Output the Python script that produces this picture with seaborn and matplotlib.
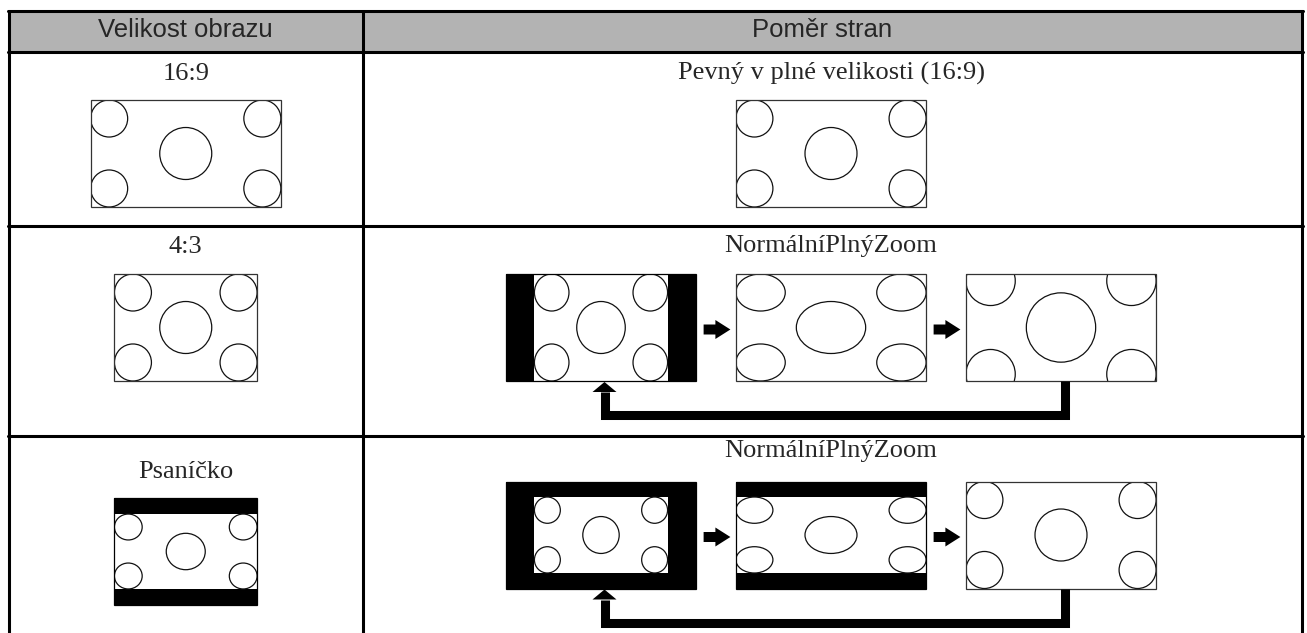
import matplotlib
matplotlib.use("Agg")
import matplotlib.pyplot as plt
import seaborn as sns
from matplotlib.patches import Rectangle, Ellipse, Polygon

# table texts
HEADERS = ["Velikost obrazu", "Poměr stran"]
SOURCE_LABELS = ["16:9", "4:3", "Psaníčko"]
SOURCE_SCREENS = ["wide", "normal", "letterbox"]
MODE_TITLES = ["Pevný v plné velikosti (16:9)", "NormálníPlnýZoom", "NormálníPlnýZoom"]
MODE_SCREENS = [["wide"], ["pillar", "stretch", "zoom"], ["window", "stretch_lb", "zoom_lb"]]

# screen kinds: frame aspect, picture aspect, picture size inside the frame
SCREEN_KINDS = ["wide", "normal", "letterbox", "pillar", "stretch", "zoom", "window", "stretch_lb", "zoom_lb"]
FRAME_ASPECT = [16 / 9, 4 / 3, 4 / 3, 16 / 9, 16 / 9, 16 / 9, 16 / 9, 16 / 9, 16 / 9]
SCENE_ASPECT = [16 / 9, 4 / 3, 16 / 9, 4 / 3, 4 / 3, 4 / 3, 16 / 9, 16 / 9, 16 / 9]
CONTENT_W = [1.0, 1.0, 1.0, 0.70, 1.0, 1.0, 0.70, 1.0, 1.0]
CONTENT_H = [1.0, 1.0, 0.70, 1.0, 1.0, 4 / 3, 0.71, 0.71, 1.0]

W, H = 1307, 633
SERIF = ["Liberation Serif", "DejaVu Serif"]
SANS = ["Liberation Sans", "DejaVu Sans"]

sns.set_theme(style="white")
plt.rcParams["font.family"] = SANS

fig = plt.figure(figsize=(W / 100, H / 100), dpi=100)
ax = fig.add_axes([0, 0, 1, 1])
ax.set_xlim(0, W)
ax.set_ylim(H, 0)
ax.axis("off")

# layout (pixels)
x_left, x_mid, x_right = 8.5, 363, 1302
row_y = [10.5, 52, 226, 436, H]
pic_h = 107
left_cx = (x_left + x_mid) / 2
right_cx = 831
step = 230
header_x = [left_cx, 822]
src_pic_cy = [153.5, 327.5, 551.5]
mode_pic_cy = [153.5, 327.5, 535]
src_base = [80, 253, 478]
mode_base = [80, 252, 457]
lw_table = 2.2


def draw_screen(ax, cx, cy, kind, h=pic_h):
    i = SCREEN_KINDS.index(kind)
    fw = FRAME_ASPECT[i] * h
    x0, y0 = cx - fw / 2, cy - h / 2
    covered = CONTENT_W[i] >= 1 and CONTENT_H[i] >= 1
    frame = Rectangle((x0, y0), fw, h, facecolor="white" if covered else "black",
                      edgecolor="none", zorder=2)
    ax.add_patch(frame)
    cw, ch = CONTENT_W[i] * fw, CONTENT_H[i] * h
    cx0, cy0 = cx - cw / 2, cy - ch / 2
    content = Rectangle((cx0, cy0), cw, ch, facecolor="white", edgecolor="none", zorder=3)
    ax.add_patch(content)
    content.set_clip_path(frame)
    a = SCENE_ASPECT[i]
    sx, sy = cw / a, ch
    rc, rm = 0.173, 0.243
    spots = [(rc, rc, rc), (a - rc, rc, rc), (rc, 1 - rc, rc), (a - rc, 1 - rc, rc), (a / 2, 0.5, rm)]
    for u, v, r in spots:
        e = Ellipse((cx0 + u * sx, cy0 + v * sy), 2 * r * sx, 2 * r * sy, fill=False,
                    edgecolor="#111111", linewidth=0.9, zorder=4)
        ax.add_patch(e)
        e.set_clip_path(frame)
    outline = Rectangle((x0, y0), fw, h, fill=False,
                        edgecolor="#333333" if covered else "black", linewidth=0.9, zorder=5)
    ax.add_patch(outline)
    return x0, x0 + fw


def right_arrow(ax, xa, xb, y):
    head = 15
    pts = [(xa, y - 5), (xb - head, y - 5), (xb - head, y - 9.5), (xb, y),
           (xb - head, y + 9.5), (xb - head, y + 5), (xa, y + 5)]
    ax.add_patch(Polygon(pts, closed=True, facecolor="black", edgecolor="none", zorder=6))


def loop_back(ax, x_from, x_to, y_bottom):
    y_line = y_bottom + 34
    ax.plot([x_from, x_from, x_to, x_to], [y_bottom, y_line, y_line, y_bottom + 11],
            color="black", linewidth=6.5, solid_joinstyle="miter", solid_capstyle="butt", zorder=6)
    ax.add_patch(Polygon([(x_to - 12, y_bottom + 11), (x_to + 12, y_bottom + 11), (x_to, y_bottom + 1)],
                         closed=True, facecolor="black", edgecolor="none", zorder=6))


# header band and grid
ax.add_patch(Rectangle((x_left, row_y[0]), x_right - x_left, row_y[1] - row_y[0],
                       facecolor="#b3b3b3", edgecolor="none", zorder=0))
for y in row_y[:4]:
    ax.plot([x_left - 1, x_right + 1], [y, y], color="black", linewidth=lw_table, zorder=1)
for x in (x_left, x_mid, x_right):
    ax.plot([x, x], [row_y[0], H], color="black", linewidth=lw_table, zorder=1)

for hx, label in zip(header_x, HEADERS):
    ax.text(hx, 37, label, ha="center", va="baseline", fontsize=18.5, family=SANS)

for r in range(3):
    ax.text(left_cx, src_base[r], SOURCE_LABELS[r], ha="center", va="baseline", fontsize=19, family=SERIF)
    draw_screen(ax, left_cx, src_pic_cy[r], SOURCE_SCREENS[r])

    ax.text(right_cx, mode_base[r], MODE_TITLES[r], ha="center", va="baseline", fontsize=19, family=SERIF)
    screens = MODE_SCREENS[r]
    n = len(screens)
    centers = [right_cx + step * (k - (n - 1) / 2) for k in range(n)]
    edges = [draw_screen(ax, c, mode_pic_cy[r], s) for c, s in zip(centers, screens)]
    if n > 1:
        for k in range(n - 1):
            right_arrow(ax, edges[k][1] + 7.5, edges[k + 1][0] - 5.5, mode_pic_cy[r] + 2)
        loop_back(ax, centers[-1] + 3.5, centers[0] + 3.5, mode_pic_cy[r] + pic_h / 2)

fig.savefig("out.png", dpi=100)
